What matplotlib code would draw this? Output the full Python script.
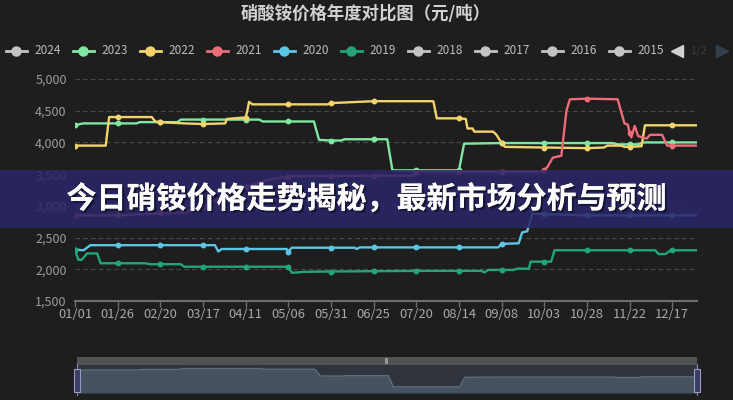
import matplotlib
matplotlib.use('Agg')
import matplotlib.pyplot as plt
import matplotlib.patheffects as pe
from matplotlib.lines import Line2D
from matplotlib.patches import Rectangle

plt.rcParams['font.family'] = ['Noto Sans CJK SC', 'DejaVu Sans']

W, H = 733, 400
BG = '#1e1e1e'

title = '硝酸铵价格年度对比图（元/吨）'
banner = '今日硝铵价格走势揭秘，最新市场分析与预测'

legend_years = ['2024', '2023', '2022', '2021', '2020', '2019', '2018', '2017', '2016', '2015']
legend_colors = ['#c4c4c4', '#7fe8a0', '#f3d46c', '#ee6b78', '#5bc7e6', '#22a678',
                 '#c4c4c4', '#c4c4c4', '#c4c4c4', '#c4c4c4']

tick_days = [0, 25, 50, 75, 100, 125, 150, 175, 200, 225, 250, 275, 300, 325, 350]
tick_labels = ['01/01', '01/26', '02/20', '03/17', '04/11', '05/06', '05/31', '06/25',
               '07/20', '08/14', '09/08', '10/03', '10/28', '11/22', '12/17']
y_ticks = [1500, 2000, 2500, 3000, 3500, 4000, 4500, 5000]

# day of year -> price (元/吨)
days_2023 = [0, 3, 5, 25, 36, 38, 50, 60, 62, 75, 100, 108, 110, 125, 140, 143, 150, 156,
             158, 175, 183, 186, 200, 225, 228, 250, 275, 300, 315, 318, 325, 330, 333, 350, 364]
price_2023 = [4270, 4290, 4300, 4300, 4300, 4320, 4320, 4320, 4360, 4360, 4360, 4360, 4330,
              4330, 4330, 4040, 4030, 4030, 4050, 4050, 4050, 3560, 3560, 3560, 3980, 3990,
              3990, 3990, 3990, 3970, 3970, 3970, 4000, 4000, 4000]

days_2022 = [0, 18, 20, 25, 45, 47, 50, 64, 75, 88, 89, 98, 100, 101, 102, 104, 125, 148,
             150, 175, 210, 212, 225, 229, 230, 233, 234, 245, 247, 250, 252, 275, 300, 310,
             312, 320, 322, 325, 332, 334, 350, 364]
price_2022 = [3950, 3950, 4400, 4400, 4400, 4330, 4320, 4300, 4290, 4300, 4370, 4390, 4390,
              4500, 4640, 4600, 4600, 4600, 4620, 4650, 4650, 4380, 4380, 4370, 4220, 4220,
              4170, 4170, 4120, 3990, 3930, 3920, 3910, 3920, 3950, 3950, 3930, 3930, 3940,
              4270, 4270, 4270]

days_2021 = [0, 25, 40, 50, 65, 75, 90, 100, 115, 125, 130, 150, 175, 198, 200, 225, 250,
             274, 275, 277, 280, 285, 288, 290, 300, 318, 322, 324, 325, 326, 328, 330, 335,
             337, 344, 347, 350, 364]
price_2021 = [2850, 2850, 2870, 2880, 2900, 2980, 3200, 3300, 3420, 3460, 3470, 3470, 3475,
              3475, 3540, 3540, 3540, 3540, 3560, 3620, 3760, 3790, 4500, 4680, 4690, 4680,
              4300, 4280, 4150, 4080, 4260, 4100, 4060, 4120, 4120, 3950, 3950, 3950]

days_2020 = [0, 5, 9, 25, 50, 75, 82, 84, 86, 100, 124, 125, 127, 150, 164, 165, 167, 175,
             200, 225, 248, 250, 260, 262, 265, 268, 275, 300, 325, 350, 364]
price_2020 = [2310, 2300, 2380, 2380, 2380, 2380, 2380, 2280, 2320, 2320, 2320, 2280, 2340,
              2340, 2340, 2320, 2345, 2345, 2345, 2345, 2345, 2400, 2410, 2580, 2600, 2880,
              2870, 2850, 2850, 2850, 2850]

days_2019 = [0, 2, 4, 7, 13, 15, 25, 41, 44, 50, 62, 64, 75, 100, 125, 127, 130, 134, 150,
             175, 200, 225, 238, 240, 242, 250, 257, 259, 266, 267, 275, 279, 281, 300, 325,
             340, 342, 346, 349, 350, 364]
price_2019 = [2300, 2150, 2150, 2250, 2250, 2095, 2095, 2095, 2080, 2080, 2080, 2040, 2040,
              2040, 2040, 1945, 1950, 1960, 1965, 1970, 1975, 1975, 1975, 1950, 1990, 1990,
              1990, 2010, 2010, 2120, 2120, 2120, 2300, 2300, 2300, 2300, 2240, 2240, 2300,
              2300, 2300]

series = [
    ('2023', days_2023, price_2023, '#7fe8a0'),
    ('2022', days_2022, price_2022, '#f3d46c'),
    ('2021', days_2021, price_2021, '#ee6b78'),
    ('2020', days_2020, price_2020, '#5bc7e6'),
    ('2019', days_2019, price_2019, '#22a678'),
]


def fx(x):
    return x / W


def fy(y):
    return 1 - y / H


fig = plt.figure(figsize=(W / 100, H / 100), dpi=100, facecolor=BG)

# main plot
ax = fig.add_axes([fx(75), fy(301), (697 - 75) / W, (301 - 79) / H])
ax.set_facecolor(BG)
for name, days, prices, color in series:
    marks = [i for i, d in enumerate(days) if d in tick_days]
    ax.plot(days, prices, color=color, lw=1.7, marker='o', ms=3.2,
            markevery=marks, solid_joinstyle='round')

ax.set_xlim(0, 364.5)
ax.set_ylim(1500, 5000)
ax.set_yticks(y_ticks)
ax.set_yticklabels([f'{v:,}' for v in y_ticks])
ax.set_xticks(tick_days)
ax.set_xticklabels(tick_labels)
ax.grid(axis='y', color='#4a4a4a', ls=(0, (4, 3)), lw=0.8)
ax.set_axisbelow(True)
for s in ['top', 'right', 'left']:
    ax.spines[s].set_visible(False)
ax.spines['bottom'].set_color('#6e6e6e')
ax.spines['bottom'].set_linewidth(1.5)
ax.tick_params(axis='y', length=0, colors='#9c9c9c', labelsize=9, pad=6)
ax.tick_params(axis='x', length=4, width=1, color='#6e6e6e', labelcolor='#a8a8a8',
               labelsize=9.3, pad=1)

# title
fig.text(fx(366), fy(14), title, ha='center', va='center', fontsize=12.5,
         fontweight='bold', color='#d2d2d2')

# legend row
for i, (yr, col) in enumerate(zip(legend_years, legend_colors)):
    x0 = 5.6 + 67 * i
    fig.add_artist(Line2D([fx(x0), fx(x0 + 21)], [fy(51), fy(51)], color=col, lw=2,
                          transform=fig.transFigure))
    fig.add_artist(Line2D([fx(x0 + 10.5)], [fy(51)], color=col, marker='o', ms=6.5,
                          transform=fig.transFigure))
    fig.text(fx(x0 + 29), fy(51), yr, ha='left', va='center', fontsize=8.5, color='#bdbdbd')
fig.add_artist(Rectangle((fx(663), fy(62)), fx(670 - 663), 20 / H, transform=fig.transFigure,
                         facecolor=BG, edgecolor='none', zorder=3))
fig.add_artist(Line2D([fx(677)], [fy(51)], marker='<', ms=8, color='#d0d0d0', lw=0,
                      transform=fig.transFigure, zorder=4))
fig.text(fx(698), fy(51), '1/2', ha='center', va='center', fontsize=8, color='#3c3c3c',
         zorder=4)
fig.add_artist(Line2D([fx(722)], [fy(51)], marker='>', ms=8, color='#33404c', lw=0,
                      transform=fig.transFigure, zorder=4))

# data zoom slider
fig.add_artist(Rectangle((fx(77), fy(364.5)), (697 - 77) / W, 7.5 / H,
                         transform=fig.transFigure, facecolor='#515254', edgecolor='none'))
fig.text(fx(387), fy(360.5), '|||', ha='center', va='center', fontsize=3.5,
         color='#dddddd', fontweight='bold')
sl = fig.add_axes([fx(77), fy(393), (697 - 77) / W, (393 - 364.5) / H])
sl.set_facecolor('#30353d')
sl.fill_between(days_2023, price_2023, 3290, color='#46525f', lw=0)
sl.plot(days_2023, price_2023, color='#5e6c7b', lw=1)
sl.set_xlim(0, 364.5)
sl.set_ylim(3290, 4540)
sl.axis('off')
sl.add_patch(Rectangle((0, 0), 1, 1, transform=sl.transAxes, facecolor='#30353d',
                       edgecolor='none', zorder=-1))
for hx in (77, 697):
    fig.add_artist(Line2D([fx(hx), fx(hx)], [fy(364), fy(395)], color='#8a8ab0', lw=0.8,
                          transform=fig.transFigure, zorder=4))
    fig.add_artist(Rectangle((fx(hx - 3), fy(392)), 6 / W, 23 / H, transform=fig.transFigure,
                             facecolor='#3b3d63', edgecolor='#9a9ac8', lw=0.8, zorder=5))

# overlay banner
fig.add_artist(Rectangle((0, fy(228)), 1, (228 - 170) / H, transform=fig.transFigure,
                         facecolor='#2a2668', alpha=0.86, edgecolor='none', zorder=6))
fig.text(fx(366.5), fy(199), banner, ha='center', va='center', fontsize=21.6,
         fontweight='bold', color='white', zorder=7,
         path_effects=[pe.withSimplePatchShadow(offset=(1.5, -1.5), shadow_rgbFace='#10102a',
                                                alpha=0.8), pe.Normal()])

fig.savefig('out.png', dpi=100, facecolor=BG)
